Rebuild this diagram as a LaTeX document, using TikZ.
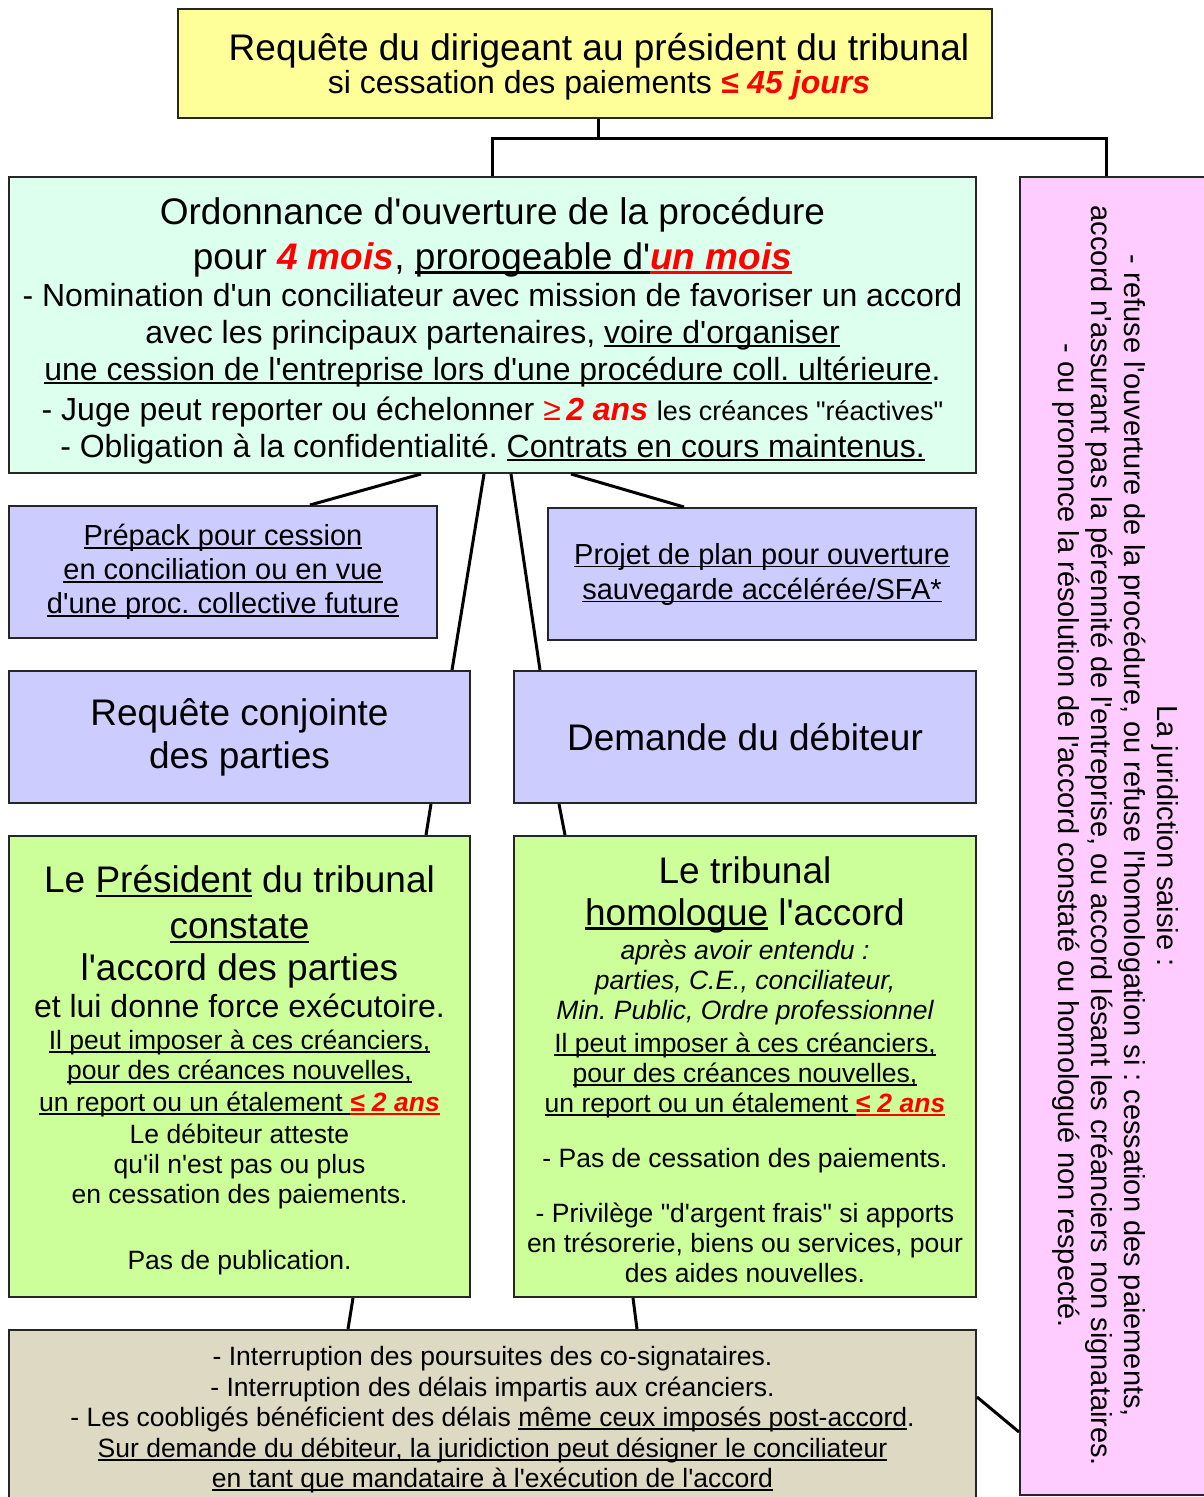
\documentclass[tikz,border=0pt]{standalone}
\usepackage{fontspec}
\usepackage{tikz}
\setmainfont{Liberation Sans}[Ligatures=TeXOff]
\setlength{\lineskiplimit}{-100pt}
\frenchspacing
\newlength{\ulw}
\newcommand{\ul}[1]{\settowidth{\ulw}{#1}\rlap{\rule[-0.12em]{\ulw}{0.065em}}#1}
\newcommand{\fsz}[2]{\fontsize{#1}{#2}\selectfont}
\newcommand{\rouge}[1]{\textcolor{red}{\bfseries\itshape #1}}

\definecolor{cYellow}{HTML}{FFFF99}
\definecolor{cMint}{HTML}{DDFFEE}
\definecolor{cBlue}{HTML}{CCCCFF}
\definecolor{cGreen}{HTML}{CCFF99}
\definecolor{cBeige}{HTML}{DDD9C3}
\definecolor{cPink}{HTML}{FFCCFF}

\tikzset{
  box/.style={draw=black!85, line width=2pt, inner sep=0pt, align=center},
  link/.style={line width=3pt}
}

\begin{document}
\begin{tikzpicture}[x=1pt,y=-1pt]
	\useasboundingbox (0,0) rectangle (1203,1497);

	% Saisine
	\node[box, fill=cYellow, minimum width=814pt, minimum height=109pt, font=\fsz{32}{33}] (req) at (585,63.5)
		{\hspace*{28pt}\fsz{37}{33}\rule{0pt}{34pt}Requête du dirigeant au président du tribunal\\
		 \hspace*{28pt}si cessation des paiements \rouge{≤ 45 jours}};

	% Ouverture
	\node[box, fill=cMint, minimum width=967pt, minimum height=296pt, font=\fsz{32}{37}] (ord) at (492.5,325)
		{\fsz{37}{37}\rule{0pt}{38pt}Ordonnance d'ouverture de la procédure\\[8pt]
		 \fsz{37}{37}pour \rouge{4 mois}, \ul{prorogeable d'}\textcolor{red}{\ul{\bfseries\itshape un mois}}\\
		 - Nomination d'un conciliateur avec mission de favoriser un accord\\
		 avec les principaux partenaires, \ul{voire d'organiser}\\
		 \ul{une cession de l'entreprise lors d'une procédure coll. ultérieure}.\\[3pt]
		 - Juge peut reporter ou échelonner \textcolor{red}{≥\,{\bfseries\itshape 2 ans}} {\fsz{27}{37}les créances "réactives"}\\
		 - Obligation à la confidentialité. \ul{Contrats en cours maintenus.}};

	% Refus / resolution
	\node[box, fill=cPink, rotate=-90, minimum width=1318pt, minimum height=190pt, font=\fsz{29}{33}] (jur) at (1115,836)
		{La juridiction saisie :\\
		 - refuse l'ouverture de la procédure, ou refuse l'homologation si : cessation des paiements,\\
		 accord n'assurant pas la pérennité de l'entreprise, ou accord lésant les créanciers non signataires.\\
		 - ou prononce la résolution de l'accord constaté ou homologué non respecté.};

	% Pistes
	\node[box, fill=cBlue, minimum width=428pt, minimum height=132pt, font=\fsz{29}{34}] (prepack) at (223,572)
		{\ul{Prépack pour cession}\\
		 \ul{en conciliation ou en vue}\\
		 \ul{d'une proc. collective future}};
	\node[box, fill=cBlue, minimum width=428pt, minimum height=132pt, font=\fsz{29}{35}] (projet) at (762,574)
		{\ul{Projet de plan pour ouverture}\\
		 \ul{sauvegarde accélérée/SFA*}};
	\node[box, fill=cBlue, minimum width=461pt, minimum height=132pt, font=\fsz{37}{43}] (conj) at (239.5,737)
		{Requête conjointe\\ des parties};
	\node[box, fill=cBlue, minimum width=462pt, minimum height=132pt, font=\fsz{37}{43}] (dem) at (745,737)
		{Demande du débiteur};

	% Issues
	\node[box, fill=cGreen, minimum width=461pt, minimum height=461pt, font=\fsz{26.5}{30}] (pres) at (239.5,1066.5)
		{\fsz{37}{30}\rule{0pt}{35pt}Le \ul{Président} du tribunal\\[16pt]
		 \fsz{37}{30}\ul{constate}\\[12pt]
		 \fsz{37}{30}l'accord des parties\\[7pt]
		 \fsz{32}{30}et lui donne force exécutoire.\\[2pt]
		 \ul{Il peut imposer à ces créanciers,}\\[0pt]
		 \ul{pour des créances nouvelles,}\\[2pt]
		 \ul{un report ou un étalement }\textcolor{red}{\ul{\bfseries\itshape ≤ 2 ans}}\\[2pt]
		 Le débiteur atteste\\
		 qu'il n'est pas ou plus\\
		 en cessation des paiements.\\[36pt]
		 Pas de publication.};
	\node[box, fill=cGreen, minimum width=462pt, minimum height=461pt, font=\fsz{26.5}{30}] (trib) at (745,1066.5)
		{\fsz{37}{30}\rule{0pt}{33pt}Le tribunal\\[12pt]
		 \fsz{37}{30}\ul{homologue} l'accord\\[4pt]
		 \itshape après avoir entendu :\\[0pt]
		 \itshape parties, C.E., conciliateur,\\
		 \itshape Min. Public, Ordre professionnel\\[3pt]
		 \ul{Il peut imposer à ces créanciers,}\\
		 \ul{pour des créances nouvelles,}\\
		 \ul{un report ou un étalement }\textcolor{red}{\ul{\bfseries\itshape ≤ 2 ans}}\\[25pt]
		 - Pas de cessation des paiements.\\[25pt]
		 - Privilège "d'argent frais" si apports\\
		 en trésorerie, biens ou services, pour\\
		 des aides nouvelles.};

	% Effets
	\node[box, fill=cBeige, minimum width=967pt, minimum height=180pt, font=\fsz{26.5}{30.5}] (effets) at (492.5,1420)
		{- Interruption des poursuites des co-signataires.\\
		 - Interruption des délais impartis aux créanciers.\\
		 - Les coobligés bénéficient des délais \ul{même ceux imposés post-accord}.\\
		 \ul{Sur demande du débiteur, la juridiction peut désigner le conciliateur}\\
		 \ul{en tant que mandataire à l'exécution de l'accord}};

	% Liens
	\coordinate (jtop) at (1106,138);
	\draw[link] ([xshift=13pt]req.south) -- ([xshift=13pt]req.south |- jtop);
	\draw[link] (ord.north) |- (jtop) -- (jtop |- jur.west);
	\draw[link] ([xshift=413pt]ord.south west) -- ([xshift=302pt]prepack.north west);
	\draw[link] ([xshift=476pt]ord.south west) -- ([xshift=444pt]conj.north west);
	\draw[link] ([xshift=503pt]ord.south west) -- ([xshift=27pt]dem.north west);
	\draw[link] ([xshift=563pt]ord.south west) -- ([xshift=137pt]projet.north west);
	\draw[link] ([xshift=423pt]conj.south west) -- ([xshift=418pt]pres.north west);
	\draw[link] ([xshift=46pt]dem.south west) -- ([xshift=52pt]trib.north west);
	\draw[link] ([xshift=345pt]pres.south west) -- ([xshift=340pt]effets.north west);
	\draw[link] ([xshift=120pt]trib.south west) -- ([xshift=629pt]effets.north west);
	\draw[link] ([yshift=-68pt]effets.north east) -- ([yshift=-596pt]jur.south);
\end{tikzpicture}
\end{document}
